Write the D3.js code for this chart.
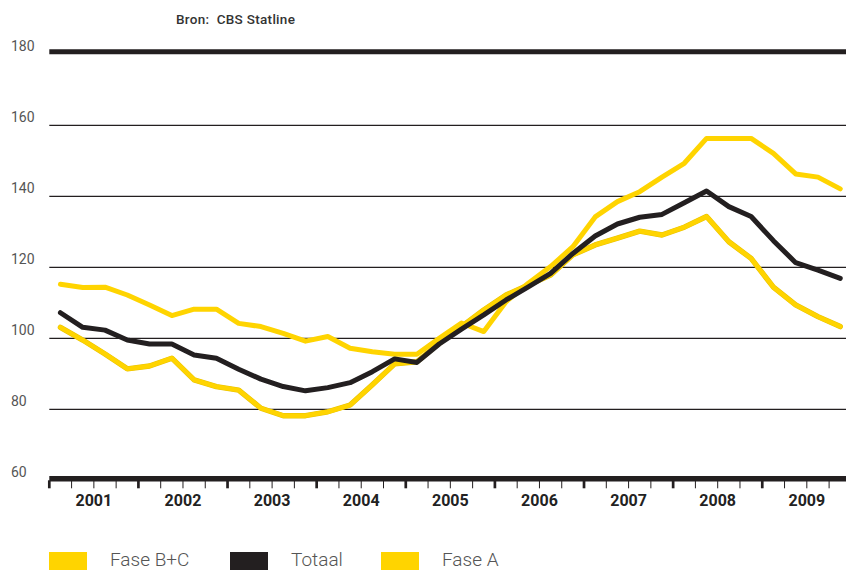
<!DOCTYPE html>
<head>
	<meta charset="utf-8">
	<script src="https://cdn.jsdelivr.net/npm/d3@7/dist/d3.min.js"></script>
	<style>
		body { margin: 0; background: #fff; }
		svg { display: block; }
		text { font-family: Roboto, "Liberation Sans", sans-serif; }
	</style>
</head>
<body>
	<div id="main_div"></div>
	<script>
	// data, quarterly 2001-2009
	var years = ["2001", "2002", "2003", "2004", "2005", "2006", "2007", "2008", "2009"];
	var quarterNames = ["K1", "K2", "K3", "K4"];
	var yTicks = [60, 80, 100, 120, 140, 160, 180];

	var faseBC = [115.2, 114.3, 114.4, 112.2, 109.4, 106.4, 108.2, 108.2, 104.2, 103.3, 101.4, 99.2,
		100.5, 97.2, 96.2, 95.5, 95.5, 100.0, 104.3, 101.9, 110.3, 115.5, 120.2, 125.8,
		134.2, 138.5, 141.3, 145.4, 149.3, 156.3, 156.3, 156.3, 152.1, 146.3, 145.4, 142.1];
	var totaal = [107.2, 103.1, 102.3, 99.5, 98.4, 98.4, 95.3, 94.4, 91.3, 88.5, 86.4, 85.2,
		86.1, 87.5, 90.6, 94.2, 93.2, 98.4, 102.6, 106.6, 110.8, 114.5, 118.3, 123.9,
		128.8, 132.2, 134.1, 134.9, 138.2, 141.5, 137.1, 134.3, 127.5, 121.3, 119.2, 116.9];
	var faseA = [103.1, 99.5, 95.6, 91.4, 92.2, 94.4, 88.3, 86.4, 85.4, 80.3, 78.2, 78.2,
		79.3, 81.2, 86.9, 92.8, 93.4, 98.6, 103.3, 108.0, 112.2, 115.0, 117.8, 123.5,
		126.3, 128.2, 130.2, 129.1, 131.3, 134.3, 127.2, 122.5, 114.4, 109.4, 106.1, 103.3];

	var legendNames = ["Fase B+C", "Totaal", "Fase A"];

	var yellow = "#ffd400", black = "#231f20";

	var quarters = [];
	years.forEach(function(y){ quarterNames.forEach(function(q){ quarters.push(y + "-" + q); }); });

	var width = 846, height = 570;
	var left = 49.3, step = 22.28;

	var svg = d3.select("#main_div").append("svg")
		.attr("width", width)
		.attr("height", height);

	var x = d3.scaleBand().domain(quarters).range([left, left + step * quarters.length]).padding(0);
	var y = d3.scaleLinear().domain([60, 180]).range([480.3, 54.3]);

	// source
	svg.append("text")
		.attr("x", 176).attr("y", 23.5)
		.style("font-size", "13.5px").style("font-weight", 500)
		.style("letter-spacing", "0.3px")
		.style("fill", "#333").style("white-space", "pre")
		.text("Bron:  CBS Statline");

	// grid
	svg.selectAll(".grid")
		.data(yTicks.filter(function(d){ return d > 60 && d < 180; }))
		.enter().append("line")
		.attr("x1", left).attr("x2", width)
		.attr("y1", function(d){ return y(d); }).attr("y2", function(d){ return y(d); })
		.style("stroke", black).style("stroke-width", 1.2);

	svg.append("line")
		.attr("x1", left).attr("x2", width)
		.attr("y1", y(180) - 2.5).attr("y2", y(180) - 2.5)
		.style("stroke", black).style("stroke-width", 5);

	svg.selectAll(".ylab")
		.data(yTicks)
		.enter().append("text")
		.attr("x", 11)
		.attr("y", function(d){ return y(d) - 3.6; })
		.style("font-size", "14px").style("fill", "#555")
		.text(function(d){ return d; });

	// lines
	var line = d3.line()
		.x(function(d, i){ return x(quarters[i]) + x.bandwidth() / 2; })
		.y(function(d){ return y(d); });

	svg.append("path").datum(faseA)
		.attr("d", line)
		.style("fill", "none").style("stroke", "#e8c200").style("stroke-width", 5.4)
		.style("stroke-linejoin", "round").style("stroke-linecap", "round");
	svg.append("path").datum(faseA)
		.attr("d", line)
		.style("fill", "none").style("stroke", yellow).style("stroke-width", 4.4)
		.style("stroke-linejoin", "round").style("stroke-linecap", "round");
	svg.append("path").datum(faseBC)
		.attr("d", line)
		.style("fill", "none").style("stroke", yellow).style("stroke-width", 5)
		.style("stroke-linejoin", "round").style("stroke-linecap", "round");
	svg.append("path").datum(totaal)
		.attr("d", line)
		.style("fill", "none").style("stroke", black).style("stroke-width", 5)
		.style("stroke-linejoin", "round").style("stroke-linecap", "round");

	// x axis
	svg.append("line")
		.attr("x1", left).attr("x2", width)
		.attr("y1", y(60) - 1.5).attr("y2", y(60) - 1.5)
		.style("stroke", black).style("stroke-width", 5.6);

	svg.selectAll(".tick")
		.data(quarters)
		.enter().append("line")
		.attr("x1", function(d){ return x(d); }).attr("x2", function(d){ return x(d); })
		.attr("y1", y(60)).attr("y2", 488.3)
		.style("stroke", black)
		.style("stroke-width", function(d){ return d.slice(-2) == "K1" ? 2.7 : 1; });

	svg.selectAll(".year")
		.data(years)
		.enter().append("text")
		.attr("x", function(d){ return x(d + "-K1") + 2 * x.bandwidth(); })
		.attr("y", 505.5)
		.style("text-anchor", "middle")
		.style("font-size", "16px").style("font-weight", 700).style("fill", "#222")
		.text(function(d){ return d; });

	// legend (cut off at the bottom edge, as in the original)
	var legendX = [49, 230, 381];
	var legendColor = [yellow, black, yellow];
	legendNames.forEach(function(n, i){
		svg.append("rect")
			.attr("x", legendX[i]).attr("y", 552)
			.attr("width", 38).attr("height", 22)
			.style("fill", legendColor[i]);
		svg.append("text")
			.attr("x", legendX[i] + 61).attr("y", 566)
			.style("font-size", "19px").style("font-weight", 300).style("fill", "#555")
			.text(n);
	});
	</script>
</body>
